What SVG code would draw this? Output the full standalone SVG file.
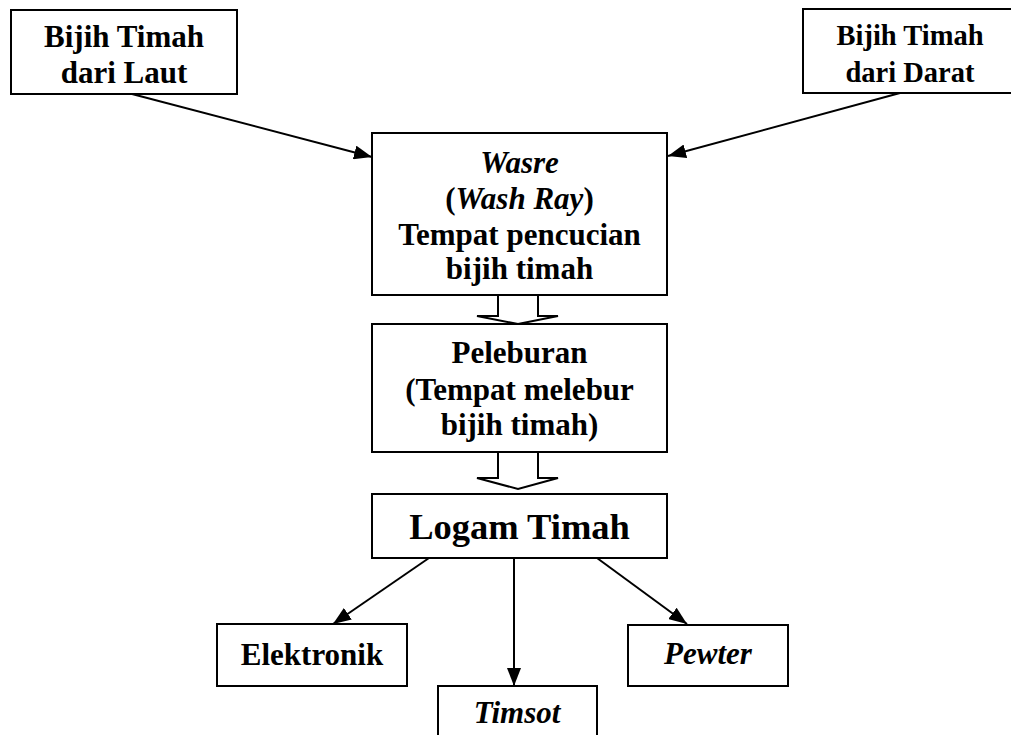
<svg xmlns="http://www.w3.org/2000/svg" width="1011" height="735" viewBox="0 0 1011 735">
<defs>
<style>
.box{fill:#fff;stroke:#000;stroke-width:2}
.t{font-family:"Liberation Serif","Times New Roman",serif;font-weight:bold;font-size:31px;fill:#000;text-anchor:middle}
.i{font-style:italic}
.ln{stroke:#000;stroke-width:2;fill:none}
.blk{fill:#fff;stroke:#000;stroke-width:2;stroke-linejoin:miter}
</style>
<marker id="ah" viewBox="0 0 18 14" refX="18" refY="7" markerWidth="18" markerHeight="14" markerUnits="userSpaceOnUse" orient="auto">
<path d="M0,0 L18,7 L0,14 Z" fill="#000"/>
</marker>
</defs>
<rect width="1011" height="735" fill="#fff"/>
<g id="connectors">
<line class="ln" x1="132" y1="94" x2="372" y2="157" marker-end="url(#ah)"/>
<line class="ln" x1="900" y1="93" x2="668" y2="156" marker-end="url(#ah)"/>
<polygon class="blk" points="498,295 498,316 477,316 518,324 558,316 538,316 538,295"/>
<polygon class="blk" points="498,452 498,478 477,478 518,489 558,478 538,478 538,452"/>
<line class="ln" x1="429" y1="558" x2="333" y2="624" marker-end="url(#ah)"/>
<line class="ln" x1="514" y1="558" x2="514" y2="686" marker-end="url(#ah)"/>
<line class="ln" x1="597" y1="558" x2="687" y2="624" marker-end="url(#ah)"/>
</g>
<g id="laut">
<rect class="box" x="11" y="10" width="226" height="84"/>
<text class="t" x="124" y="47" font-size="30">Bijih Timah</text>
<text class="t" x="124" y="83" font-size="30">dari Laut</text>
</g>
<g id="darat">
<rect class="box" x="803" y="9" width="215" height="84"/>
<text class="t" x="910" y="45" style="font-size:28.5px">Bijih Timah</text>
<text class="t" x="910" y="82" style="font-size:28.5px">dari Darat</text>
</g>
<g id="wasre">
<rect class="box" x="372" y="133" width="295" height="162"/>
<text class="t i" x="519.5" y="173">Wasre</text>
<text class="t" x="519.5" y="209">(<tspan class="i">Wash Ray</tspan>)</text>
<text class="t" x="519.5" y="245">Tempat pencucian</text>
<text class="t" x="519.5" y="279">bijih timah</text>
</g>
<g id="peleburan">
<rect class="box" x="372" y="324" width="295" height="128"/>
<text class="t" x="519.5" y="363">Peleburan</text>
<text class="t" x="519.5" y="400">(Tempat melebur</text>
<text class="t" x="519.5" y="435">bijih timah)</text>
</g>
<g id="logam">
<rect class="box" x="372" y="494" width="295" height="64"/>
<text class="t" x="519.5" y="539" style="font-size:36.5px">Logam Timah</text>
</g>
<g id="elektronik">
<rect class="box" x="217" y="624" width="190" height="62"/>
<text class="t" x="312" y="665">Elektronik</text>
</g>
<g id="timsot">
<rect class="box" x="438" y="686" width="159" height="60"/>
<text class="t i" x="517" y="723">Timsot</text>
</g>
<g id="pewter">
<rect class="box" x="628" y="625" width="160" height="61"/>
<text class="t i" x="708" y="664">Pewter</text>
</g>
</svg>
